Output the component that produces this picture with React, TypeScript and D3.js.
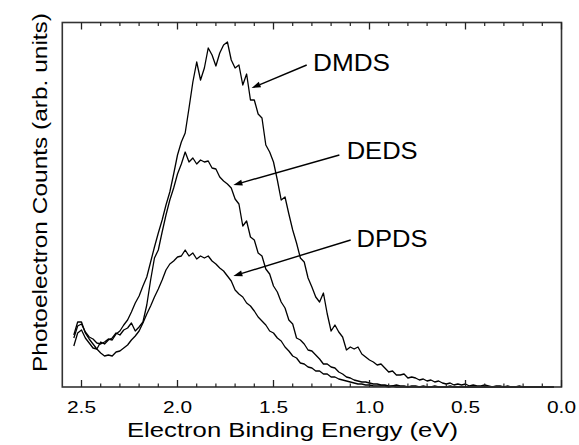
import React from "react";
import * as d3 from "d3";

// Electron binding energy grid (eV)
const energies = [
  2.54, 2.52, 2.5, 2.48, 2.46, 2.44, 2.42, 2.4, 2.38, 2.36,
  2.34, 2.32, 2.3, 2.28, 2.26, 2.24, 2.22, 2.2, 2.18, 2.16,
  2.14, 2.12, 2.1, 2.08, 2.06, 2.04, 2.02, 2.0, 1.98, 1.96,
  1.94, 1.92, 1.9, 1.88, 1.86, 1.84, 1.82, 1.8, 1.78, 1.76,
  1.74, 1.72, 1.7, 1.68, 1.66, 1.64, 1.62, 1.6, 1.58, 1.56,
  1.54, 1.52, 1.5, 1.48, 1.46, 1.44, 1.42, 1.4, 1.38, 1.36,
  1.34, 1.32, 1.3, 1.28, 1.26, 1.24, 1.22, 1.2, 1.18, 1.16,
  1.14, 1.12, 1.1, 1.08, 1.06, 1.04, 1.02, 1.0, 0.98, 0.96,
  0.94, 0.92, 0.9, 0.88, 0.86, 0.84, 0.82, 0.8, 0.78, 0.76,
  0.74, 0.72, 0.7, 0.68, 0.66, 0.64, 0.62, 0.6, 0.58, 0.56,
  0.54, 0.52, 0.5, 0.48, 0.46, 0.44, 0.42, 0.4, 0.38, 0.36,
  0.34, 0.32, 0.3, 0.28, 0.26, 0.24, 0.22, 0.2, 0.18, 0.16,
  0.14, 0.12, 0.1, 0.08, 0.06, 0.04,
];

// Photoelectron counts (arb. units)
const dmds = [
  49, 61, 63, 55, 50, 48, 44, 43, 45, 48,
  47, 53, 56, 62, 67, 75, 84, 91, 101, 110,
  125, 140, 154, 167, 182, 195, 213, 232, 245, 254,
  279, 305, 325, 307, 319, 339, 332, 321, 334, 342,
  345, 327, 319, 322, 302, 313, 287, 287, 273, 269,
  242, 235, 225, 207, 187, 190, 173, 157, 144, 129,
  125, 109, 100, 90, 85, 94, 73, 56, 62, 55,
  50, 37, 40, 38, 40, 33, 30, 27, 25, 22,
  23, 19, 15, 16, 12, 12, 13, 9, 10, 9,
  7, 8, 6, 7, 5, 6, 4, 3, 4, 2,
  3, 2, 3, 1, 2, 1, 1, 2, 1, 0,
  1, 1, 0, 1, 0, 0, 1, 0, 0, 0,
  0, 0, 0, 0, 0, 0,
];

const deds = [
  41, 54, 57, 49, 44, 39, 38, 45, 43, 47,
  49, 54, 52, 57, 59, 64, 56, 60, 65, 82,
  107, 129, 137, 155, 172, 187, 199, 213, 223, 235,
  225, 229, 223, 227, 225, 226, 219, 218, 210, 206,
  203, 199, 188, 183, 161, 166, 150, 147, 134, 131,
  118, 113, 101, 95, 85, 79, 67, 63, 49, 47,
  43, 37, 36, 32, 28, 23, 23, 20, 19, 15,
  13, 10, 9, 7, 6, 5, 5, 4, 3, 3,
  2, 2, 1, 1, 2, 1, 1, 0, 1, 1,
  0, 1, 0, 0, 1, 0, 0, 0, 1, 0,
  0, 0, 0, 0, 0, 0, 0, 0, 0, 0,
  0, 0, 0, 0, 0, 0, 0, 0, 0, 0,
  0, 0, 0, 0, 0, 0,
];

const dpds = [
  52, 65, 65, 54, 48, 43, 38, 34, 31, 32,
  31, 35, 36, 39, 42, 47, 51, 56, 64, 73,
  81, 90, 98, 107, 117, 123, 126, 130, 131, 137,
  131, 134, 128, 131, 129, 131, 126, 123, 119, 116,
  111, 106, 97, 93, 90, 84, 81, 76, 70, 66,
  62, 56, 54, 49, 46, 40, 36, 31, 29, 24,
  23, 20, 19, 16, 16, 13, 13, 10, 10, 8,
  7, 6, 5, 4, 3, 3, 2, 2, 1, 1,
  1, 1, 0, 1, 0, 0, 0, 0, 0, 0,
  0, 0, 0, 0, 0, 0, 0, 0, 0, 0,
  0, 0, 0, 0, 0, 0, 0, 0, 0, 0,
  0, 0, 0, 0, 0, 0, 0, 0, 0, 0,
  0, 0, 0, 0, 0, 0,
];

const majorTicks = [2.5, 2.0, 1.5, 1.0, 0.5, 0.0];
const minorTicks = [2.4, 2.3, 2.2, 2.1, 1.9, 1.8, 1.7, 1.6, 1.4, 1.3, 1.2, 1.1, 0.9, 0.8, 0.7, 0.6, 0.4, 0.3, 0.2, 0.1];
const seriesNames = ["DMDS", "DEDS", "DPDS"];
// annotation: [arrow tip E, tip count, tail E, tail count, label E, label count]
const annotations = [
  [1.614, 299, 1.327, 322, 1.294, 316],
  [1.709, 202, 1.157, 232, 1.119, 228],
  [1.709, 111, 1.098, 147, 1.067, 140],
];

const W = 579;
const H = 445;
const left = 62.3;
const right = 561.5;
const top = 22.5;
const bottom = 387;
const FONT = "'Liberation Sans', Arial, Helvetica, sans-serif";

export default function App() {
  const x = d3.scaleLinear().domain([2.6, 0]).range([left, right]);
  const y = d3.scaleLinear().domain([0, 364.5]).range([bottom, top]);
  const series = [dmds, deds, dpds];
  const line = d3
    .line<number>()
    .x((_, i) => x(energies[i]))
    .y((d) => y(d));

  return (
    <div style={{ position: "fixed", left: 0, top: 0, width: W, height: H, background: "#fff" }}>
      <svg width={W} height={H} style={{ display: "block" }}>
        <rect x={0} y={0} width={W} height={H} fill="#fff" />
        {series.map((s, k) => (
          <path key={seriesNames[k]} d={line(s) || ""} fill="none" stroke="#000" strokeWidth={1.3} strokeLinejoin="round" />
        ))}
        <rect x={left} y={top} width={right - left} height={bottom - top} fill="none" stroke="#333" strokeWidth={1.6} />
        {majorTicks.map((t) => (
          <g key={"M" + t}>
            <line x1={x(t)} x2={x(t)} y1={bottom} y2={bottom - 7} stroke="#222" strokeWidth={1.3} />
            <line x1={x(t)} x2={x(t)} y1={top} y2={top + 7} stroke="#222" strokeWidth={1.3} />
            <text x={x(t)} y={413} fontSize={16} fontFamily={FONT} textAnchor="middle" textLength={29} lengthAdjust="spacingAndGlyphs">
              {d3.format(".1f")(t)}
            </text>
          </g>
        ))}
        {minorTicks.map((t) => (
          <g key={"m" + t}>
            <line x1={x(t)} x2={x(t)} y1={bottom} y2={bottom - 3.5} stroke="#222" strokeWidth={1.2} />
            <line x1={x(t)} x2={x(t)} y1={top} y2={top + 3.5} stroke="#222" strokeWidth={1.2} />
          </g>
        ))}
        <text x={292.5} y={437} fontSize={20} fontFamily={FONT} textAnchor="middle" textLength={331} lengthAdjust="spacingAndGlyphs">
          Electron Binding Energy (eV)
        </text>
        <text
          transform={`translate(46.5,192.5) rotate(-90)`}
          fontSize={21}
          fontFamily={FONT}
          textAnchor="middle"
          textLength={359}
          lengthAdjust="spacingAndGlyphs"
        >
          Photoelectron Counts (arb. units)
        </text>
        {annotations.map((a, k) => {
          const tx = x(a[0]);
          const ty = y(a[1]);
          const sx = x(a[2]);
          const sy = y(a[3]);
          const ang = Math.atan2(ty - sy, tx - sx);
          const len = 9;
          const hw = 3;
          const bx = tx - len * Math.cos(ang);
          const by = ty - len * Math.sin(ang);
          const p1 = [bx + hw * Math.sin(ang), by - hw * Math.cos(ang)];
          const p2 = [bx - hw * Math.sin(ang), by + hw * Math.cos(ang)];
          return (
            <g key={seriesNames[k]}>
              <line x1={sx} y1={sy} x2={bx} y2={by} stroke="#000" strokeWidth={1.4} />
              <polygon points={`${tx},${ty} ${p1[0]},${p1[1]} ${p2[0]},${p2[1]}`} fill="#000" />
              <text x={x(a[4])} y={y(a[5])} fontSize={24} fontFamily={FONT} textLength={k === 0 ? 77 : 71} lengthAdjust="spacingAndGlyphs">
                {seriesNames[k]}
              </text>
            </g>
          );
        })}
      </svg>
    </div>
  );
}
